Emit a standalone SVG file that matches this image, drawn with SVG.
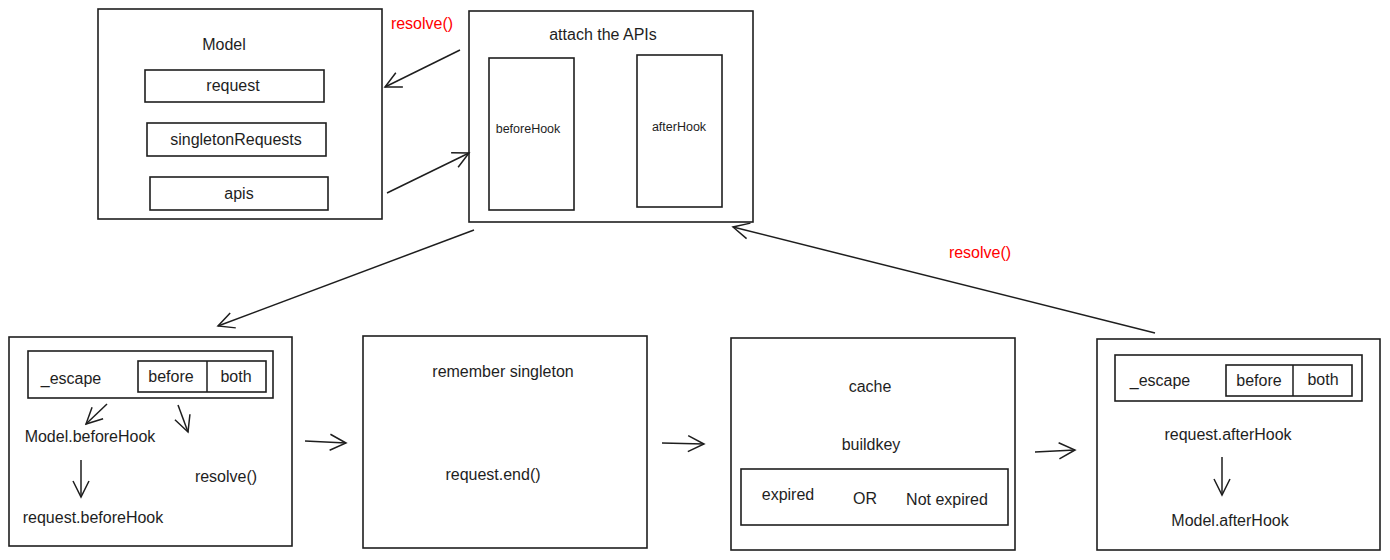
<svg xmlns="http://www.w3.org/2000/svg" width="1390" height="560" viewBox="0 0 1390 560">
<defs>
<marker id="ah" viewBox="0 0 20 20" refX="18" refY="10" markerWidth="20" markerHeight="20" markerUnits="userSpaceOnUse" orient="auto">
<path d="M2 2 L18 10 L2 18" fill="none" stroke="#1e1e1e" stroke-width="1.5"/>
</marker>
<style>
.box{fill:none;stroke:#1e1e1e;stroke-width:1.6}
.t{font-family:"Liberation Sans",Arial,sans-serif;font-size:16px;fill:#1e1e1e;text-anchor:middle;dominant-baseline:middle}
.s{font-size:12.5px}
.red{fill:#ff0000}
.c{fill:none;stroke:#1e1e1e;stroke-width:1.5;marker-end:url(#ah)}
</style>
</defs>
<rect width="1390" height="560" fill="#ffffff"/>

<g id="model">
<rect class="box" x="98" y="9" width="284" height="210"/>
<text class="t" x="224" y="46">Model</text>
<rect class="box" x="145" y="70" width="179" height="32"/>
<text class="t" x="233" y="87">request</text>
<rect class="box" x="147" y="123" width="179" height="33"/>
<text class="t" x="236" y="141">singletonRequests</text>
<rect class="box" x="150" y="177" width="178" height="33"/>
<text class="t" x="239" y="195">apis</text>
</g>

<g id="attach">
<rect class="box" x="469" y="11" width="284" height="211"/>
<text class="t" x="603" y="36">attach the APIs</text>
<rect class="box" x="489" y="58" width="85" height="152"/>
<text class="t s" x="528" y="130">beforeHook</text>
<rect class="box" x="637" y="55" width="85" height="152"/>
<text class="t s" x="679" y="128">afterHook</text>
</g>

<g id="hooks-before">
<rect class="box" x="9" y="337" width="283" height="209"/>
<rect class="box" x="28" y="351" width="245" height="47"/>
<rect class="box" x="138" y="361" width="128" height="31"/>
<line x1="207" y1="361" x2="207" y2="392" stroke="#1e1e1e" stroke-width="1.5"/>
<text class="t" x="71" y="380">_escape</text>
<text class="t" x="171" y="378">before</text>
<text class="t" x="236" y="378">both</text>
<text class="t" x="90" y="438">Model.beforeHook</text>
<text class="t" x="93" y="519">request.beforeHook</text>
<text class="t" x="226" y="478">resolve()</text>
</g>

<g id="remember">
<rect class="box" x="363" y="336" width="284" height="212"/>
<text class="t" x="503" y="373">remember singleton</text>
<text class="t" x="493" y="476">request.end()</text>
</g>

<g id="cache">
<rect class="box" x="731" y="338" width="284" height="212"/>
<text class="t" x="870" y="388">cache</text>
<text class="t" x="871" y="446">buildkey</text>
<rect class="box" x="741" y="469" width="267" height="56"/>
<text class="t" x="788" y="496">expired</text>
<text class="t" x="865" y="500">OR</text>
<text class="t" x="947" y="501">Not expired</text>
</g>

<g id="hooks-after">
<rect class="box" x="1097" y="339" width="283" height="211"/>
<rect class="box" x="1115" y="355" width="247" height="46"/>
<rect class="box" x="1226" y="365" width="126" height="31"/>
<line x1="1293" y1="365" x2="1293" y2="396" stroke="#1e1e1e" stroke-width="1.5"/>
<text class="t" x="1160" y="382">_escape</text>
<text class="t" x="1259" y="382">before</text>
<text class="t" x="1323" y="381">both</text>
<text class="t" x="1228" y="436">request.afterHook</text>
<text class="t" x="1230" y="522">Model.afterHook</text>
</g>

<g id="connectors">
<path class="c" d="M460 50 L385 87"/>
<path class="c" d="M387 193 L469 153"/>
<path class="c" d="M474 230 L218 326"/>
<path class="c" d="M1155 333 L733 227"/>
<path class="c" d="M107 404 L86 424"/>
<path class="c" d="M178 405 L188 432"/>
<path class="c" d="M81 460 L81 497"/>
<path class="c" d="M305 441 L346 443"/>
<path class="c" d="M662 443 L704 444"/>
<path class="c" d="M1035 452 L1075 450"/>
<path class="c" d="M1222 457 L1222 495"/>
<text class="t red" x="422" y="25">resolve()</text>
<text class="t red" x="980" y="254">resolve()</text>
</g>
</svg>
